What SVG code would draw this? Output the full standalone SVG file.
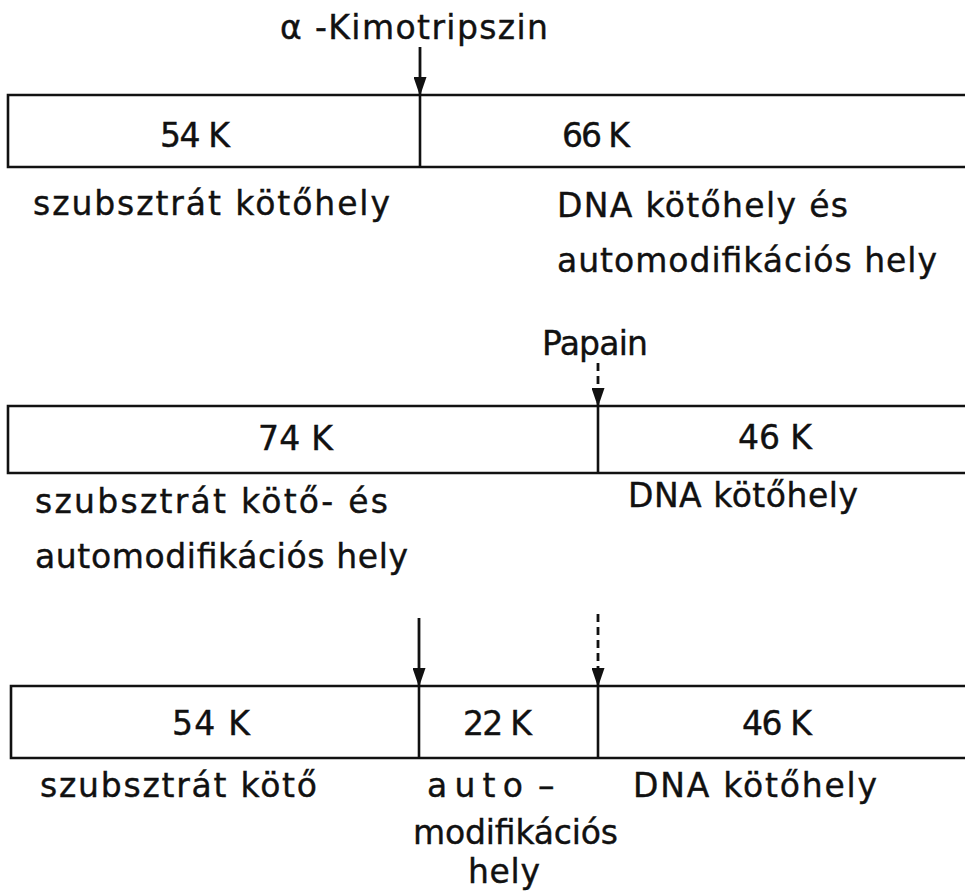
<svg xmlns="http://www.w3.org/2000/svg" width="965" height="892" viewBox="0 0 965 892">
  <style>
    .bar { fill: none; stroke: #111; stroke-width: 2.6; }
    .div { stroke: #111; stroke-width: 2.6; }
    .t { font-family: "DejaVu Sans", "Liberation Sans", sans-serif; font-size: 33px; fill: #111; stroke: #111; stroke-width: 0.4; }
    .arr { stroke: #111; stroke-width: 2.8; fill: none; marker-end: url(#head); }
    .dash { stroke-dasharray: 8 5; }
  </style>
  <defs>
    <!-- filled triangular head pointing along the line direction -->
    <marker id="head" viewBox="0 0 19 13" refX="19" refY="6.5" markerWidth="19" markerHeight="13" markerUnits="userSpaceOnUse" orient="auto">
      <path d="M0,0 L19,6.5 L0,13 Z" fill="#111"/>
    </marker>
  </defs>
  <rect width="965" height="892" fill="#fff"/>

  <!-- enzyme labels -->
  <g id="label-kimotripszin">
    <text class="t" x="280" y="39" textLength="268" lengthAdjust="spacing">α -Kimotripszin</text>
  </g>
  <g id="label-papain">
    <text class="t" x="542" y="355" textLength="106" lengthAdjust="spacing">Papain</text>
  </g>

  <!-- bar 1: chymotrypsin fragments -->
  <g id="bar1">
    <path class="bar" d="M970,95 H8 V167 H970"/>
    <line class="div" x1="420" y1="95" x2="420" y2="167"/>
    <text class="t" x="160" y="147" textLength="70" lengthAdjust="spacing">54 K</text>
    <text class="t" x="562" y="147" textLength="68" lengthAdjust="spacing">66 K</text>
    <text class="t" x="33" y="215" textLength="357" lengthAdjust="spacing">szubsztrát kötőhely</text>
    <text class="t" x="557" y="217" textLength="291" lengthAdjust="spacing">DNA kötőhely és</text>
    <text class="t" x="557" y="272" textLength="380" lengthAdjust="spacing">automodifikációs hely</text>
  </g>

  <!-- bar 2: papain fragments -->
  <g id="bar2">
    <path class="bar" d="M970,406 H8 V473 H970"/>
    <line class="div" x1="598" y1="406" x2="598" y2="473"/>
    <text class="t" x="258" y="450" textLength="75" lengthAdjust="spacing">74 K</text>
    <text class="t" x="738" y="449" textLength="74" lengthAdjust="spacing">46 K</text>
    <text class="t" x="35" y="513" textLength="353" lengthAdjust="spacing">szubsztrát kötő- és</text>
    <text class="t" x="35" y="568" textLength="373" lengthAdjust="spacing">automodifikációs hely</text>
    <text class="t" x="628" y="507" textLength="230" lengthAdjust="spacing">DNA  kötőhely</text>
  </g>

  <!-- bar 3: both cleavages -->
  <g id="bar3">
    <path class="bar" d="M970,686 H11 V758 H970"/>
    <line class="div" x1="419" y1="686" x2="419" y2="758"/>
    <line class="div" x1="598" y1="686" x2="598" y2="758"/>
    <text class="t" x="172" y="735" textLength="78" lengthAdjust="spacing">54 K</text>
    <text class="t" x="463" y="735" textLength="69" lengthAdjust="spacing">22 K</text>
    <text class="t" x="742" y="735" textLength="70" lengthAdjust="spacing">46 K</text>
    <text class="t" x="40" y="797" textLength="277" lengthAdjust="spacing">szubsztrát kötő</text>
    <text class="t" x="427" y="797"><tspan textLength="96" lengthAdjust="spacing">auto</tspan><tspan x="538">–</tspan></text>
    <text class="t" x="413" y="844" textLength="205" lengthAdjust="spacing">modifikációs</text>
    <text class="t" x="468" y="883" textLength="72" lengthAdjust="spacing">hely</text>
    <text class="t" x="633" y="797" textLength="244" lengthAdjust="spacing">DNA kötőhely</text>
  </g>

  <!-- cleavage arrows -->
  <g id="connectors">
    <line class="arr" x1="420" y1="47" x2="420" y2="96"/>
    <line class="arr dash" x1="598" y1="363" x2="598" y2="407"/>
    <line class="arr" x1="419" y1="618" x2="419" y2="687"/>
    <line class="arr dash" x1="598" y1="614" x2="598" y2="687"/>
  </g>
</svg>
